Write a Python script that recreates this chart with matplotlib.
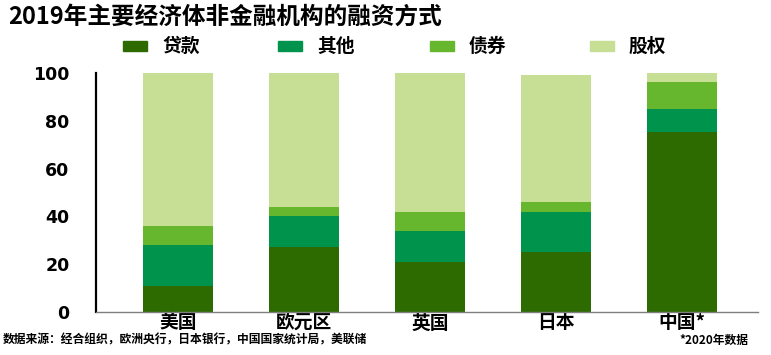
"""2019年主要经济体非金融机构的融资方式 - stacked bars."""
import numpy as np
import matplotlib
matplotlib.use('Agg')
import matplotlib.pyplot as plt
from matplotlib.patches import Rectangle

plt.rcParams['font.family'] = ['Noto Sans CJK SC', 'DejaVu Sans']

regions = ['美国', '欧元区', '英国', '日本', '中国*']
loans = [11, 27, 21, 25, 75.2]
other = [17, 13, 13, 17, 9.6]
bonds = [8, 4, 8, 4, 11.6]
equity = [64, 56, 58, 53, 3.6]

series_names = ['贷款', '其他', '债券', '股权']
colors = ['#2D6A00', '#00934B', '#67B72E', '#C6DF95']


def main():
    fig = plt.figure(figsize=(7.71, 3.55), dpi=100)
    ax = fig.add_axes([0.1245, 0.1211, 0.8586, 0.6732])

    x = np.arange(len(regions))
    bottom = np.zeros(len(regions))
    for vals, col in zip([loans, other, bonds, equity], colors):
        ax.bar(x, vals, width=0.556, bottom=bottom, color=col, edgecolor='none')
        bottom += np.array(vals)

    ax.set_xlim(-0.65, 4.6)
    ax.set_ylim(0, 100)
    ax.set_yticks([0, 20, 40, 60, 80, 100])
    ax.set_yticklabels(['0', '20', '40', '60', '80', '100'],
                       family='DejaVu Sans', fontweight='bold', fontsize=12.5)
    ax.set_xticks(x)
    ax.set_xticklabels(regions, fontweight='bold', fontsize=13.5)
    ax.tick_params(axis='y', length=0, pad=19)
    ax.tick_params(axis='x', length=0, pad=1)
    for s in ['top', 'right']:
        ax.spines[s].set_visible(False)
    ax.spines['left'].set_linewidth(1.6)
    ax.spines['left'].set_color('black')
    ax.spines['bottom'].set_linewidth(1.0)
    ax.spines['bottom'].set_color('#7f7f7f')

    # title
    fig.text(8 / 771, 1 - 17 / 355, '2019年主要经济体非金融机构的融资方式',
             fontsize=17, fontweight='bold', va='center', ha='left')

    # legend drawn by hand to match spacing
    patch_x = [123, 278, 430, 590]
    W, H = 771, 355
    for px, name, col in zip(patch_x, series_names, colors):
        fig.patches.append(Rectangle((px / W, 1 - 51 / H), 24 / W, 10 / H,
                                     transform=fig.transFigure, color=col))
        fig.text((px + 39) / W, 1 - 46 / H, name, fontsize=13.5,
                 fontweight='bold', va='center', ha='left')

    # footnotes
    fig.text(3 / W, 1 - 340 / H, '数据来源：经合组织，欧洲央行，日本银行，中国国家统计局，美联储',
             fontsize=8.5, fontweight='bold', style='italic', va='center', ha='left')
    fig.text(748 / W, 1 - 340 / H, '*2020年数据',
             fontsize=8.5, fontweight='bold', style='italic', va='center', ha='right')

    fig.savefig('out.png', dpi=100)


if __name__ == '__main__':
    main()
